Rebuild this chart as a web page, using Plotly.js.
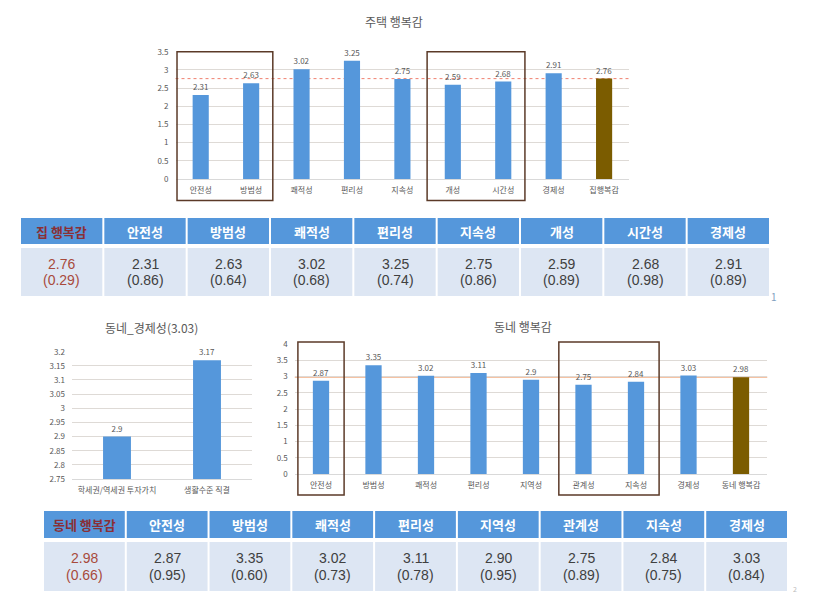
<!DOCTYPE html>
<html><head><meta charset="utf-8">
<script src="https://cdn.plot.ly/plotly-3.0.1.min.js"></script>
<style>html,body{margin:0;padding:0;background:#fff;}#chart{width:818px;height:597px;}</style>
</head><body><div id="chart"></div>
<script>
// ---- data ----
const houseCats = ['안전성','방범성','쾌적성','편리성','지속성','개성','시간성','경제성','집행복감'];
const houseVals = [2.31,2.63,3.02,3.25,2.75,2.59,2.68,2.91,2.76];
const econCats = ['학세권/역세권 투자가치','생활수준 직결'];
const econVals = [2.9,3.17];
const hoodCats = ['안전성','방범성','쾌적성','편리성','지역성','관계성','지속성','경제성','동네 행복감'];
const hoodVals = [2.87,3.35,3.02,3.11,2.9,2.75,2.84,3.03,2.98];

const houseHeader = ['집 행복감','안전성','방범성','쾌적성','편리성','지속성','개성','시간성','경제성'];
const houseMeans = ['2.76','2.31','2.63','3.02','3.25','2.75','2.59','2.68','2.91'];
const houseSDs = ['0.29','0.86','0.64','0.68','0.74','0.86','0.89','0.98','0.89'];
const hoodHeader = ['동네 행복감','안전성','방범성','쾌적성','편리성','지역성','관계성','지속성','경제성'];
const hoodMeans = ['2.98','2.87','3.35','3.02','3.11','2.90','2.75','2.84','3.03'];
const hoodSDs = ['0.66','0.95','0.60','0.73','0.78','0.95','0.89','0.75','0.84'];

// ---- helpers ----
const W = 818, H = 597;
const px = v => v / W;
const py = v => 1 - v / H;
const BLUE = '#5597db', BROWN = '#7b5c00';
const FONT = 'Noto Sans CJK KR, Noto Sans, sans-serif';
const NUMFONT = 'Liberation Sans, Arial, ' + FONT;
const TICK = {family: FONT, size: 8, color: '#595959'};
const GRID = '#dedad6';

function barColors(n) { return Array.from({length: n}, (_, i) => i === n - 1 ? BROWN : BLUE); }

const traces = [
  {type: 'bar', x: houseCats, y: houseVals, xaxis: 'x', yaxis: 'y', width: 0.32,
   marker: {color: barColors(houseVals.length)}, text: houseVals.map(String), textposition: 'outside',
   textfont: {family: FONT, size: 8, color: '#595959'}, cliponaxis: false, hoverinfo: 'x+y'},
  {type: 'bar', x: econCats, y: econVals, xaxis: 'x2', yaxis: 'y2', width: 0.31,
   marker: {color: BLUE}, text: econVals.map(String), textposition: 'outside',
   textfont: {family: FONT, size: 8, color: '#595959'}, cliponaxis: false, hoverinfo: 'x+y'},
  {type: 'bar', x: hoodCats, y: hoodVals, xaxis: 'x3', yaxis: 'y3', width: 0.31,
   marker: {color: barColors(hoodVals.length)}, text: hoodVals.map(String), textposition: 'outside',
   textfont: {family: FONT, size: 8, color: '#595959'}, cliponaxis: false, hoverinfo: 'x+y'},
];

const shapes = [];
const annotations = [];
function note(text, x, y, font) {
  annotations.push({text: text, xref: 'paper', yref: 'paper', x: px(x), y: py(y), xanchor: 'center',
    yanchor: 'middle', showarrow: false, font: font});
}

// table built from shapes + annotations
function buildTable(header, means, sds, x0, x1, hTop, hBot, bTop, bBot, line1, line2) {
  const n = header.length;
  const cw = (x1 - x0) / n;
  for (let i = 0; i < n; i++) {
    const l = x0 + i * cw + 1, r = x0 + (i + 1) * cw - 1, c = x0 + (i + 0.5) * cw;
    shapes.push({type: 'rect', xref: 'paper', yref: 'paper', x0: px(l), x1: px(r), y0: py(hBot), y1: py(hTop),
      fillcolor: '#5597db', line: {width: 0}, layer: 'below'});
    shapes.push({type: 'rect', xref: 'paper', yref: 'paper', x0: px(l), x1: px(r), y0: py(bBot), y1: py(bTop),
      fillcolor: '#dde6f3', line: {width: 0}, layer: 'below'});
    const first = i === 0;
    note('<b>' + header[i] + '</b>', c, (hTop + hBot) / 2, {family: FONT, size: 13, color: first ? '#8a2f35' : 'white'});
    const col = first ? '#a84a3c' : '#404040';
    note(means[i], c, line1, {family: NUMFONT, size: 14, color: col});
    note('(' + sds[i] + ')', c, line2, {family: NUMFONT, size: 14, color: col});
  }
}
buildTable(houseHeader, houseMeans, houseSDs, 20, 770, 218, 244, 248, 296, 263.5, 280);
buildTable(hoodHeader, hoodMeans, hoodSDs, 43, 788, 511, 538, 542, 591, 558, 575);

const ax = (dom) => ({domain: dom, showgrid: false, showline: true, linecolor: '#d9d9d9', ticks: '',
  tickfont: TICK, fixedrange: true, type: 'category', ticklabelstandoff: 3});
const ay = (dom, range, dtick) => ({domain: dom, range: range, dtick: dtick, showgrid: true, gridcolor: GRID,
  gridwidth: 1, zeroline: false, showline: false, ticks: '', tickfont: TICK, fixedrange: true, ticklabelstandoff: 6});

const boxLine = {color: '#5b3a28', width: 1.5};
shapes.push(
  {type: 'line', xref: 'x domain', yref: 'y', x0: 0, x1: 1, y0: houseVals[8], y1: houseVals[8],
   line: {color: '#f08070', width: 1, dash: 'dot'}, layer: 'below'},
  {type: 'line', xref: 'x3 domain', yref: 'y3', x0: 0, x1: 1, y0: hoodVals[8], y1: hoodVals[8],
   line: {color: '#f0a070', width: 1}, layer: 'below'},
  {type: 'rect', xref: 'x', yref: 'paper', x0: -0.47, x1: 1.43, y0: py(200.5), y1: py(51.7), line: boxLine},
  {type: 'rect', xref: 'x', yref: 'paper', x0: 4.49, x1: 6.43, y0: py(200.5), y1: py(51.7), line: boxLine},
  {type: 'rect', xref: 'x3', yref: 'paper', x0: -0.44, x1: 0.44, y0: py(495), y1: py(342), line: boxLine},
  {type: 'rect', xref: 'x3', yref: 'paper', x0: 4.53, x1: 6.44, y0: py(495), y1: py(342), line: boxLine}
);
note('주택 행복감', 394, 22, {family: FONT, size: 12, color: '#595959'});
note('동네_경제성(3.03)', 151, 327, {family: FONT, size: 12, color: '#595959'});
note('동네 행복감', 523, 326, {family: FONT, size: 12, color: '#595959'});
note('1', 774, 296, {family: FONT, size: 10, color: '#7f9fbf'});
note('2', 795, 589, {family: FONT, size: 7, color: '#bbbbbb'});

const layout = {
  width: W, height: H, margin: {l: 0, r: 0, t: 0, b: 0},
  paper_bgcolor: 'white', plot_bgcolor: 'rgba(0,0,0,0)', showlegend: false,
  font: {family: FONT},
  xaxis: ax([px(175.5), px(629.3)]),
  yaxis: ay([py(179), py(51.7)], [0, 3.5], 0.5),
  xaxis2: Object.assign(ax([px(72), px(252)]), {anchor: 'y2'}),
  yaxis2: Object.assign(ay([py(479), py(351.7)], [2.75, 3.2], 0.05), {anchor: 'x2'}),
  xaxis3: Object.assign(ax([px(294.75), px(767.25)]), {anchor: 'y3'}),
  yaxis3: Object.assign(ay([py(474), py(344)], [0, 4], 0.5), {anchor: 'x3'}),
  shapes: shapes,
  annotations: annotations
};

Plotly.newPlot('chart', traces, layout, {displayModeBar: false, staticPlot: true});
</script></body></html>
